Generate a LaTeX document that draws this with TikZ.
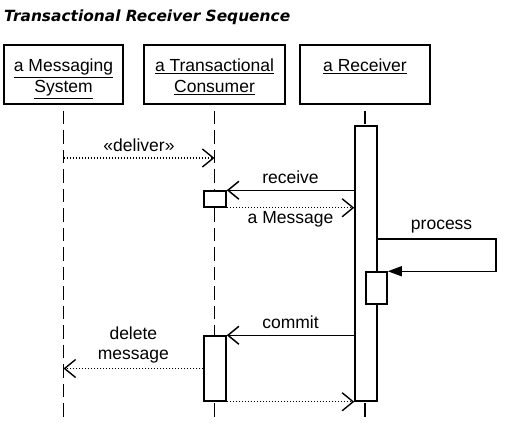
\documentclass[tikz,border=0pt]{standalone}
\usepackage{fontspec}
\setmainfont{Liberation Sans}
\newfontfamily\titlefont{DejaVu Sans}
\usetikzlibrary{arrows.meta, positioning}

\begin{document}
\begin{tikzpicture}[
    x=1pt, y=-1pt,
    actor/.style={draw, rectangle, line width=1.9pt, minimum height=59pt, inner sep=0pt},
    actorname/.style={inner sep=0pt, align=center, font=\fontsize{17.5}{21}\selectfont},
    bar/.style={draw, rectangle, fill=white, line width=1.5pt, minimum width=22pt, inner sep=0pt},
    lifeline/.style={line width=1.8pt, dash pattern=on 13.5pt off 6pt, dash phase=13.5pt},
    call/.style={line width=1.5pt, -{Straight Barb[length=11pt,width=18pt]}},
    reply/.style={line width=1.4pt, dash pattern=on 1.5pt off 1.5pt, -{Straight Barb[length=11pt,width=18pt]}},
    self/.style={line width=1.5pt, -{Triangle[length=14pt,width=10pt]}},
    msg/.style={font=\fontsize{17.5}{20}\selectfont, align=center}
  ]
  \useasboundingbox (0,0) rectangle (510,428);

  % Title
  \node [anchor=base west, inner sep=0pt, font=\titlefont\fontsize{15.4}{18}\selectfont\bfseries\itshape] (title) at (4,22) {Transactional Receiver Sequence};

  % Participants
  \node [actor, minimum width=119pt] (sys) at (63.5,74.5) {};
  \node [actor, minimum width=141pt] (cons) at (214.5,74.5) {};
  \node [actor, minimum width=130pt] (recv) at (365,74.5) {};
  \node [actorname, below=15pt of sys.north] (sysname) {\underline{a Messaging}\\\underline{System}};
  \node [actorname, below=15pt of cons.north] (consname) {\underline{a Transactional}\\\underline{Consumer}};
  \node [actorname, below=15pt of recv.north] (recvname) {\underline{a Receiver}};

  % Lifelines
  \draw [lifeline] (sys) -- (sys |- 0,418);
  \draw [lifeline] (cons) -- (cons |- 0,418);
  \draw [lifeline] (recv) -- (recv |- 0,418);

  % Activations
  \node [bar, minimum height=275pt] (rbar) at (366,263.5) {};
  \node [bar, minimum height=16pt] (ack) at (215,199) {};
  \node [bar, minimum width=21pt, minimum height=32pt] (proc) at (376.5,288) {};
  \node [bar, minimum height=65pt] (cbar) at (215,368.5) {};

  % Messages
  \coordinate (dlv) at (0,158);
  \draw [reply] (sys |- dlv) -- node [msg, above=2.5pt] {«deliver»} (cons |- dlv);

  \draw [call] (rbar.west |- ack.north) -- node [msg, above=2.5pt] {receive} (ack.north east);
  \draw [reply] (ack.south east) -- node [msg, below] {a Message} (rbar.west |- ack.south);

  \coordinate (turn) at (496,239);
  \draw [self] (rbar.east |- turn) -- node [msg, above=1.5pt, pos=0.54] {process} (turn) |- (proc.north east);

  \draw [call] (rbar.west |- cbar.north) -- node [msg, above=2.5pt] {commit} (cbar.north east);
  \draw [reply] (cbar.west) -- node [msg, above=1pt] {delete\\message} (cbar.west -| sys);
  \draw [reply] (cbar.south east) -- (rbar.south west);

\end{tikzpicture}
\end{document}
